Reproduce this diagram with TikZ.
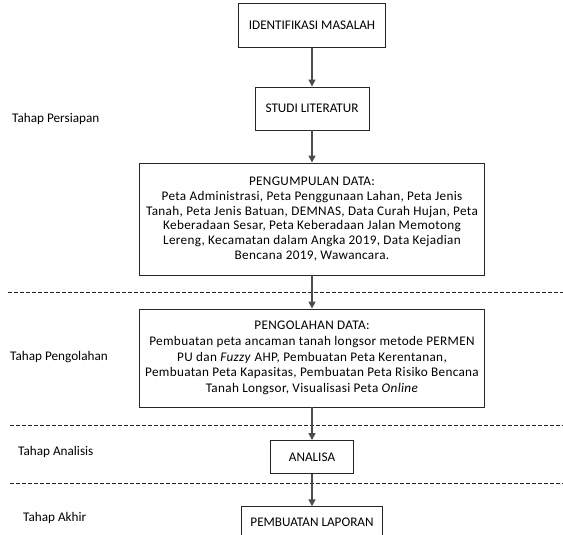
\documentclass[tikz,border=0pt]{standalone}
\usepackage{fontspec}
\setmainfont{Carlito}
\newfontfamily\boxfont[LetterSpace=2.5]{Carlito}
\usetikzlibrary{arrows.meta}

\begin{document}
\begin{tikzpicture}[x=1pt, y=-1pt,
	box/.style = {draw=black!85, line width=0.9pt, align=center, inner sep=0pt},
	stage/.style = {anchor=west, inner sep=0pt},
	flow/.style = {draw=black!70, line width=1.5pt, -{Triangle[width=7pt,length=7pt]}},
	divider/.style = {draw=black!85, line width=0.8pt, dash pattern=on 3.5pt off 2.5pt},
	font=\fontsize{13.2}{15}\selectfont]
	\useasboundingbox (0,0) rectangle (563,535);
	\clip (0,0) rectangle (563,535);
	\node[box, minimum width=147pt, minimum height=44pt] (ident) at (312,25.5) {IDENTIFIKASI MASALAH};
	\node[box, minimum width=114pt, minimum height=43pt] (studi) at (312,108.5) {STUDI LITERATUR};
	\node[box, minimum width=345pt, minimum height=112pt, font=\boxfont\fontsize{13.2}{14.8}\selectfont] (kumpul) at (312,219) {PENGUMPULAN DATA:\\
		Peta Administrasi, Peta Penggunaan Lahan, Peta Jenis\\
		Tanah, Peta Jenis Batuan, DEMNAS, Data Curah Hujan, Peta\\
		Keberadaan Sesar, Peta Keberadaan Jalan Memotong\\
		Lereng, Kecamatan dalam Angka 2019, Data Kejadian\\
		Bencana 2019, Wawancara.};
	\node[box, minimum width=345pt, minimum height=98pt, font=\boxfont\fontsize{13.2}{15.8}\selectfont] (olah) at (312,358) {PENGOLAHAN DATA:\\
		Pembuatan peta ancaman tanah longsor metode PERMEN\\
		PU dan \textit{Fuzzy} AHP, Pembuatan Peta Kerentanan,\\
		Pembuatan Peta Kapasitas, Pembuatan Peta Risiko Bencana\\
		Tanah Longsor, Visualisasi Peta \textit{Online}};
	\node[box, minimum width=83pt, minimum height=33pt] (analisa) at (312,457) {ANALISA};
	\node[box, minimum width=141pt, minimum height=32pt] (laporan) at (312,522.7) {PEMBUATAN LAPORAN};

	% tahap
	\node[stage] (persiapan) at (12,119) {Tahap Persiapan};
	\node[stage] (pengolahan) at (10,357) {Tahap Pengolahan};
	\node[stage] (analisis) at (18,452) {Tahap Analisis};
	\node[stage] (akhir) at (23,518) {Tahap Akhir};

	\draw[divider] (8,292) -- (563,292);
	\draw[divider] (10,425) -- (563,425);
	\draw[divider] (10,483.5) -- (563,483.5);

	\path
		(ident) edge[flow] (studi)
		(studi) edge[flow] (kumpul)
		(kumpul) edge[flow] (olah)
		(olah) edge[flow] (analisa)
		(analisa) edge[flow] (laporan);
\end{tikzpicture}
\end{document}
